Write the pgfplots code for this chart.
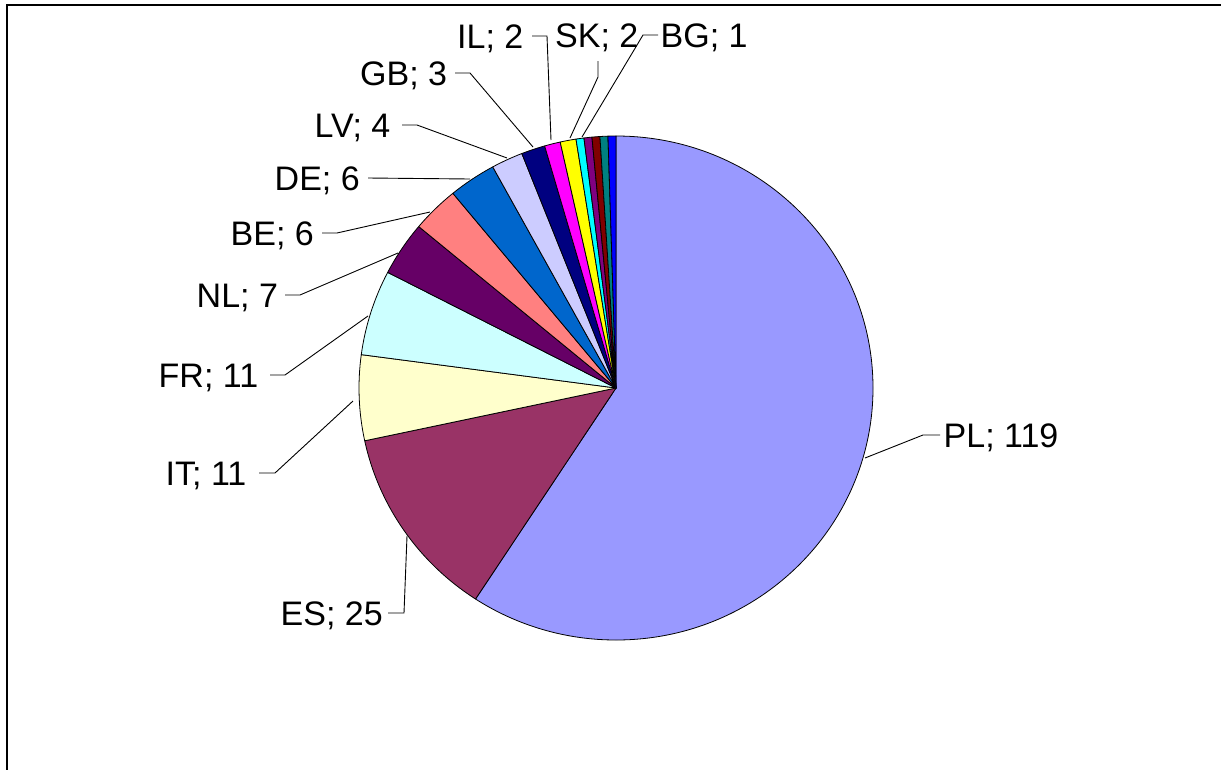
\documentclass[border=0pt]{standalone}
\usepackage{pgfplots}
\usepackage{pgfplotstable}
\pgfplotsset{compat=1.18}
\usepackage{fontspec}
\setmainfont{Liberation Sans}
\definecolor{c0}{HTML}{9999FF}
\definecolor{c1}{HTML}{993366}
\definecolor{c2}{HTML}{FFFFCC}
\definecolor{c3}{HTML}{CCFFFF}
\definecolor{c4}{HTML}{660066}
\definecolor{c5}{HTML}{FF8080}
\definecolor{c6}{HTML}{0066CC}
\definecolor{c7}{HTML}{CCCCFF}
\definecolor{c8}{HTML}{000080}
\definecolor{c9}{HTML}{FF00FF}
\definecolor{c10}{HTML}{FFFF00}
\definecolor{c11}{HTML}{00FFFF}
\definecolor{c12}{HTML}{800080}
\definecolor{c13}{HTML}{800000}
\definecolor{c14}{HTML}{008080}
\definecolor{c15}{HTML}{0000FF}
\pgfplotstableread{
name value
PL 119
ES 25
IT 11
FR 11
NL 7
BE 6
DE 6
LV 4
GB 3
IL 2
SK 2
BG 1
X1 1
X2 1
X3 1
X4 1
}\pietab
\pgfplotstablecreatecol[create col/expr accum={\pgfmathaccuma + \thisrow{value}}{0}]{cum}\pietab
\def\total{201}
\def\cx{616}
\def\cy{388}
\begin{document}
\begin{tikzpicture}
\begin{axis}[
  scale only axis, width=1221pt, height=769pt,
  xmin=0, xmax=1221, ymin=0, ymax=769, y dir=reverse,
  hide axis, clip=true,
]
\pgfplotsinvokeforeach{0,...,15}{
  \pgfplotstablegetelem{#1}{cum}\of\pietab
  \pgfmathsetmacro\angB{90-\pgfplotsretval/\total*360}
  \pgfplotstablegetelem{#1}{value}\of\pietab
  \pgfmathsetmacro\angA{\angB+\pgfplotsretval/\total*360}
  \edef\cmd{\noexpand\filldraw[fill=c#1, draw=black, line width=0.8pt, line join=round]
    (axis cs:\cx,\cy) -- ++(\angA:257pt and 252pt)
    arc[start angle=\angA, end angle=\angB, x radius=257pt, y radius=252pt] -- cycle;}
  \cmd
}
% frame
\draw[line width=1.4pt] (axis cs:7,800) -- (axis cs:7,5) -- (axis cs:1240,5);
% leader lines
\begin{scope}[line width=0.9pt]
\draw (axis cs:940,435) -- (axis cs:923,435) -- (axis cs:865,458);
\draw (axis cs:388,613) -- (axis cs:404,613) -- (axis cs:407,536);
\draw (axis cs:259,473) -- (axis cs:275,473) -- (axis cs:353,401);
\draw (axis cs:270,375) -- (axis cs:285,375) -- (axis cs:368,316);
\draw (axis cs:285,295) -- (axis cs:300,295) -- (axis cs:398,253);
\draw (axis cs:322,233) -- (axis cs:337,233) -- (axis cs:430,212);
\draw (axis cs:368,178) -- (axis cs:470,179);
\draw (axis cs:402,125) -- (axis cs:417,125) -- (axis cs:507,158);
\draw (axis cs:455,73) -- (axis cs:470,73) -- (axis cs:533,147);
\draw (axis cs:532,36) -- (axis cs:547,36) -- (axis cs:551,140);
\draw (axis cs:598,61) -- (axis cs:598,77) -- (axis cs:570,138);
\draw (axis cs:658,35) -- (axis cs:643,35) -- (axis cs:582,137);
\end{scope}
% labels
\begin{scope}[every node/.style={anchor=base west, inner sep=0pt, font=\fontsize{34}{40}\selectfont}]
\node at (axis cs:943.5,447) {PL; 119};
\node at (axis cs:280.5,625) {ES; 25};
\node at (axis cs:165.5,485) {IT; 11};
\node at (axis cs:158.5,387) {FR; 11};
\node at (axis cs:196.5,307) {NL; 7};
\node at (axis cs:230.5,245) {BE; 6};
\node at (axis cs:274.5,190) {DE; 6};
\node at (axis cs:314.5,137) {LV; 4};
\node at (axis cs:360,85) {GB; 3};
\node at (axis cs:457,48) {IL; 2};
\node at (axis cs:555,47) {SK; 2};
\node at (axis cs:660.5,47) {BG; 1};
\end{scope}
\end{axis}
\pgfresetboundingbox
\path[use as bounding box] (current axis.south west) rectangle (current axis.north east);
\end{tikzpicture}
\end{document}
